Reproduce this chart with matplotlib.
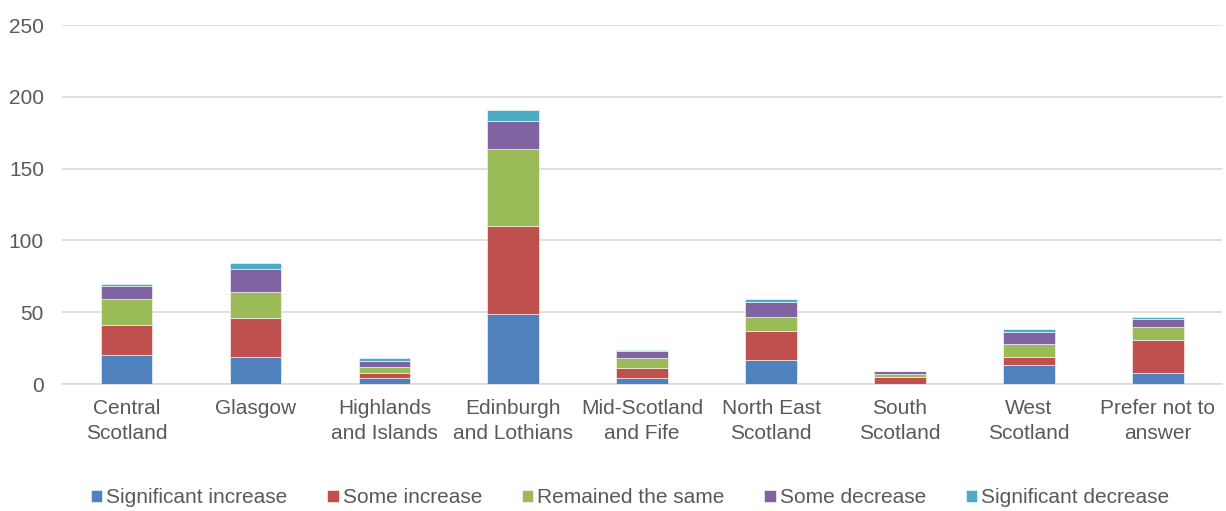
import numpy as np
import matplotlib.pyplot as plt

plt.rcParams['font.family'] = ['Liberation Sans', 'DejaVu Sans']

# regions and answers
regioes = ["Central\nScotland", "Glasgow", "Highlands\nand Islands", "Edinburgh\nand Lothians",
           "Mid-Scotland\nand Fife", "North East\nScotland", "South\nScotland", "West\nScotland",
           "Prefer not to\nanswer"]
series = ["Significant increase", "Some increase", "Remained the same", "Some decrease",
          "Significant decrease"]
sig_inc = [20, 19, 4, 49, 4, 17, 0, 13, 8]
some_inc = [21, 27, 4, 61, 7, 20, 5, 6, 23]
same = [18, 18, 4, 54, 7, 10, 2, 9, 9]
some_dec = [9, 16, 4, 19, 5, 10, 2, 8, 5]
sig_dec = [2, 4, 2, 8, 1, 2, 0, 2, 2]
cores = ["#4f81bd", "#c0504d", "#9bbb59", "#8064a2", "#4bacc6"]

fig = plt.figure(figsize=(12.26, 5.11), dpi=100)
ax = fig.add_axes([0.0506, 0.2485, 0.9464, 0.7025])

x = np.arange(len(regioes))
base = np.zeros(len(regioes))
for nome, vals, cor in zip(series, [sig_inc, some_inc, same, some_dec, sig_dec], cores):
    ax.bar(x, vals, width=0.4, bottom=base, color=cor, label=nome,
           edgecolor="white", linewidth=0.4, zorder=3)
    base += np.array(vals)

ax.set_xlim(-0.5, len(regioes) - 0.5)
ax.set_ylim(0, 250)
ax.set_yticks(range(0, 251, 50))
ax.set_xticks(x)
ax.set_xticklabels(regioes, fontsize=15, color="#595959", linespacing=1.37)
ax.tick_params(axis="y", length=0, pad=13, labelsize=15, labelcolor="#595959")
ax.tick_params(axis="x", length=0, pad=11)
ax.grid(axis="y", color="#d9d9d9", linewidth=1.2, zorder=0)
for lado in ["top", "right", "left"]:
    ax.spines[lado].set_visible(False)
ax.spines["bottom"].set_color("#d9d9d9")
ax.spines["bottom"].set_linewidth(1.2)

leg = fig.legend(loc="center", bbox_to_anchor=(0.514, 0.026), ncol=5, frameon=False,
                 fontsize=15, handlelength=0.55, handleheight=0.55, handletextpad=0.2,
                 columnspacing=1.9)
for t in leg.get_texts():
    t.set_color("#595959")

fig.savefig("out.png", dpi=100)
